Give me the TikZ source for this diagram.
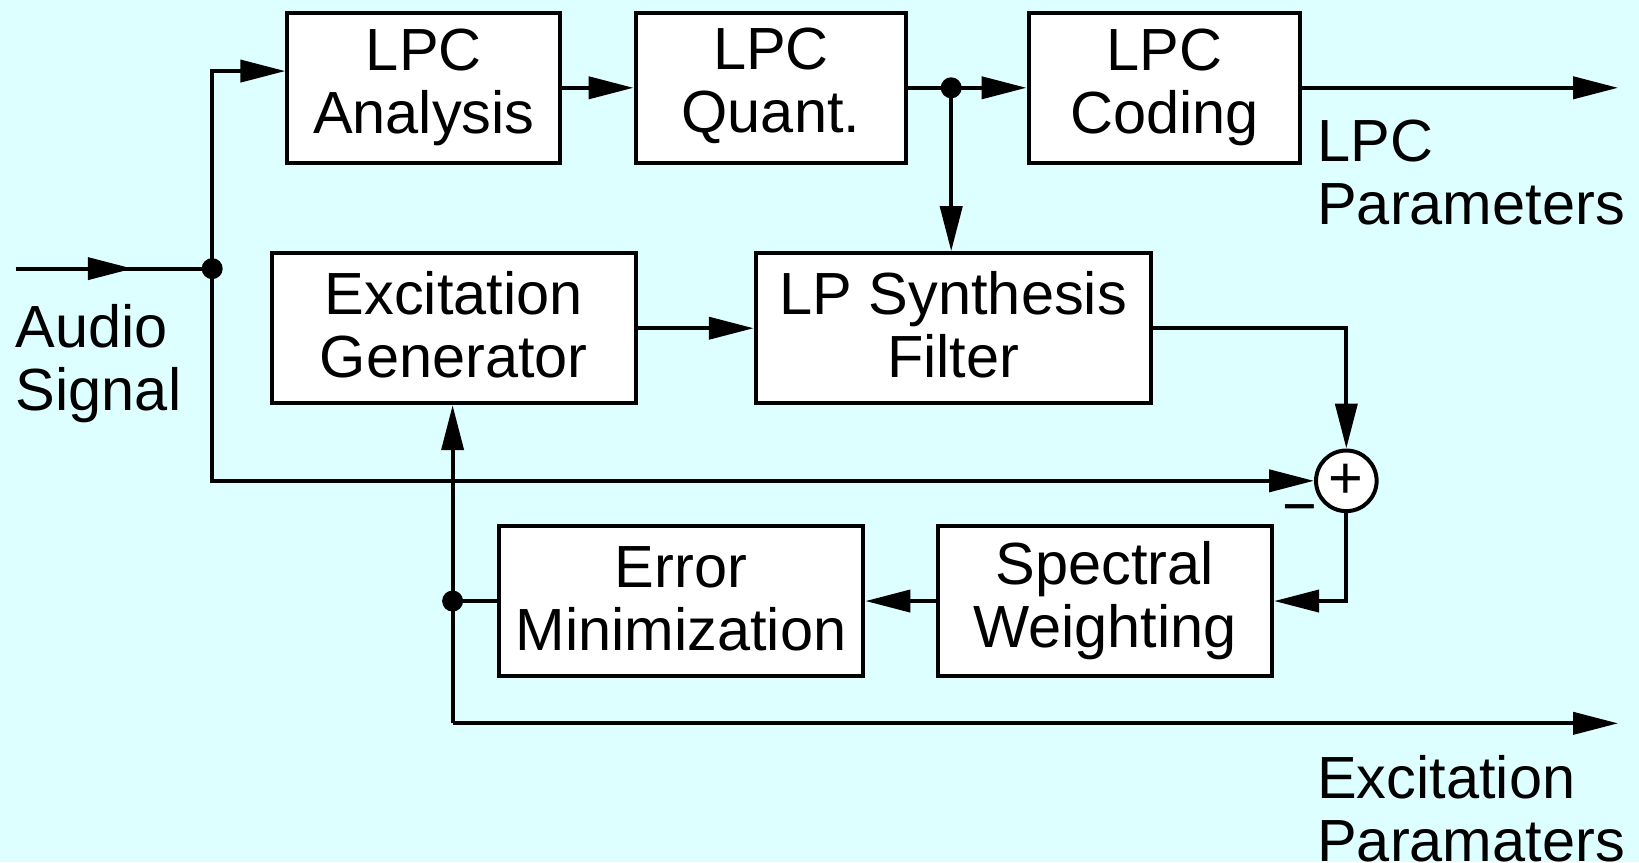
\documentclass[tikz,border=0pt]{standalone}
\usepackage{fontspec}
\setmainfont{Liberation Sans}
\usetikzlibrary{arrows.meta}
\definecolor{bgcyan}{RGB}{221,255,255}
\begin{document}
\begin{tikzpicture}[x=1.0453pt,y=-1.0453pt,
  every node/.style={font=\fontsize{59.5}{63}\selectfont},
  blk/.style={draw,fill=white,line width=4pt,inner sep=0pt},
  txt/.style={align=center,inner sep=0pt},
  wire/.style={line width=4pt},
  arr/.style={wire,-{Triangle[length=45pt,width=22pt]}},
  dot/.style={circle,fill=black,inner sep=0pt,minimum size=21pt},
  lbl/.style={align=left,anchor=north west,inner sep=0pt}]

% background and page size
\fill[bgcyan] (0,0) rectangle (1568,825);
\useasboundingbox (0,0) rectangle (1568,825);

% blocks
\node[blk,minimum width=273pt,minimum height=150.5pt] (ana) at (405.5,84) {};
\node[blk,minimum width=270.7pt,minimum height=150.5pt] (qua) at (737.5,84) {};
\node[blk,minimum width=271.8pt,minimum height=150.5pt] (cod) at (1114,84) {};
\node[blk,minimum width=363.8pt,minimum height=150pt] (exc) at (434,314) {};
\node[blk,minimum width=395.1pt,minimum height=150pt] (syn) at (912,314) {};
\node[blk,minimum width=334.5pt,minimum height=150.5pt] (spw) at (1057,575) {};
\node[blk,minimum width=364.8pt,minimum height=150.5pt] (err) at (651.5,575) {};

% block captions
\node[txt] (anaT) at (ana.center) {LPC\\Analysis};
\node[txt] (quaT) at ([yshift=2pt]qua.center) {LPC\\Quant.};
\node[txt] (codT) at (cod.center) {LPC\\Coding};
\node[txt] (excT) at ([yshift=3.5pt]exc.center) {Excitation\\Generator};
\node[txt] (synT) at ([yshift=3.5pt]syn.center) {LP Synthesis\\Filter};
\node[txt] (spwT) at (spw.center) {Spectral\\Weighting};
\node[txt] (errT) at ([yshift=2pt]err.center) {Error\\Minimization};

% summing point
\node[draw,fill=white,circle,line width=4pt,inner sep=0pt,minimum size=60.6pt] (sum) at (1288,460) {+};
\node[inner sep=0pt,anchor=base] (minus) at (1244,503.5) {−};

% text labels
\node[lbl] (lpcp) at (1260,114.5) {LPC\\Parameters};
\node[lbl] (audio) at (15,291) {Audio\\Signal};
\node[lbl] (excp) at (1260,722) {Excitation\\Paramaters};

% junctions and free ends
\coordinate (ain) at (15,257);
\coordinate (amid) at (127,257);
\coordinate (dA) at (203,257);
\coordinate (tA) at (203,68);
\coordinate (dQ) at (910,84);
\coordinate (oL) at (1548,84);
\coordinate (dE) at (433,575);
\coordinate (bot) at (433,692);
\coordinate (oE) at (1548,692);

% connectors
\draw[wire] (ain) -- (dA);
\draw[arr] (ain) -- (amid);
\draw[arr] (dA) -- (tA) -- (tA -| ana.west);
\draw[arr] (dA) |- (sum.west);
\draw[arr] (ana.east) -- (qua.west);
\draw[arr] (qua.east) -- (cod.west);
\draw[arr] (dQ) -- (dQ |- syn.north);
\draw[arr] (cod.east) -- (oL);
\draw[arr] (exc.east) -- (syn.west);
\draw[arr] (syn.east) -| (sum.north);
\draw[arr] (sum.south) |- (spw.east);
\draw[arr] (spw.west) -- (err.east);
\draw[wire] (err.west) -- (dE);
\draw[arr] (bot) -- (dE) -- (dE |- exc.south);
\draw[arr] (bot) -- (oE);

% junction dots
\node[dot] (jA) at (dA) {};
\node[dot] (jQ) at (dQ) {};
\node[dot] (jE) at (dE) {};
\end{tikzpicture}
\end{document}
